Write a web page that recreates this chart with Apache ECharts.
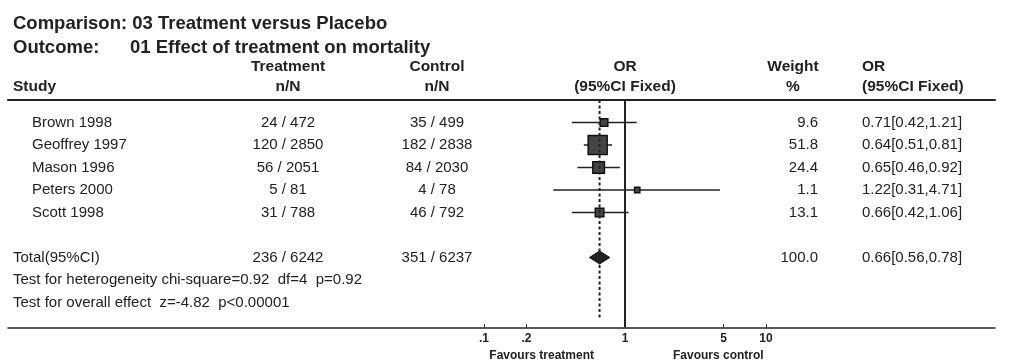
<!DOCTYPE html>
<html>
<head>
<meta charset="utf-8">
<title>Forest plot</title>
<script src="https://cdn.jsdelivr.net/npm/echarts@6/dist/echarts.min.js"></script>
<style>
  html, body { margin: 0; padding: 0; background: #fff; }
  #main { width: 1027px; height: 360px; }
</style>
</head>
<body>
<div id="main"></div>
<script>
// ---- data ----
var studies = ['Brown 1998', 'Geoffrey 1997', 'Mason 1996', 'Peters 2000', 'Scott 1998'];
var treatEvents = [24, 120, 56, 5, 31];
var treatTotal = [472, 2850, 2051, 81, 788];
var ctrlEvents = [35, 182, 84, 4, 46];
var ctrlTotal = [499, 2838, 2030, 78, 792];
var weights = [9.6, 51.8, 24.4, 1.1, 13.1];
var orEst = [0.71, 0.64, 0.65, 1.22, 0.66];
var orLow = [0.42, 0.51, 0.46, 0.31, 0.42];
var orHigh = [1.21, 0.81, 0.92, 4.71, 1.06];

var totalTreat = [236, 6242];
var totalCtrl = [351, 6237];
var totalWeight = 100.0;
var totalOr = [0.66, 0.56, 0.78];      // est, low, high
var heterogeneity = [0.92, 4, 0.92];    // chi-square, df, p
var overallEffect = ['-4.82', '<0.00001'];

var tickValues = [0.1, 0.2, 1, 5, 10];
var tickLabels = ['.1', '.2', '1', '5', '10'];

// ---- layout ----
var FONT = "'Liberation Sans', Arial, sans-serif";
var INK = '#222';
var TOP = 100, ROWH = 22.5;
var ROW_MIN = -1, ROW_MAX = 9.1;
var TOTAL_ROW = 6;
var col = { left: 13, name: 32, treat: 288, ctrl: 437, plot: 625, weight: 818, or: 862, favT: 594, favC: 673 };

function fmtOr(e, l, h) {
  return e.toFixed(2) + '[' + l.toFixed(2) + ',' + h.toFixed(2) + ']';
}

// table cells: [x, row, text, align, weight, size]
var cells = [];
function cell(x, row, text, align, bold, size) {
  cells.push([x, row, text, align || 'left', bold ? 'bold' : 'normal', size || 15]);
}
cell(col.treat, -2.47, 'Treatment', 'center', true, 15.5);
cell(col.ctrl, -2.47, 'Control', 'center', true, 15.5);
cell(col.plot, -2.47, 'OR', 'center', true, 15.5);
cell(col.weight - 25, -2.47, 'Weight', 'center', true, 15.5);
cell(col.or, -2.47, 'OR', 'left', true, 15.5);
cell(col.left, -1.58, 'Study', 'left', true, 15.5);
cell(col.treat, -1.58, 'n/N', 'center', true, 15.5);
cell(col.ctrl, -1.58, 'n/N', 'center', true, 15.5);
cell(col.plot, -1.58, '(95%CI Fixed)', 'center', true, 15.5);
cell(col.weight - 25, -1.58, '%', 'center', true, 15.5);
cell(col.or, -1.58, '(95%CI Fixed)', 'left', true, 15.5);

studies.forEach(function (s, i) {
  cell(col.name, i, s);
  cell(col.treat, i, treatEvents[i] + ' / ' + treatTotal[i], 'center');
  cell(col.ctrl, i, ctrlEvents[i] + ' / ' + ctrlTotal[i], 'center');
  cell(col.weight, i, weights[i].toFixed(1), 'right');
  cell(col.or, i, fmtOr(orEst[i], orLow[i], orHigh[i]));
});
cell(col.left, TOTAL_ROW, 'Total(95%CI)');
cell(col.treat, TOTAL_ROW, totalTreat[0] + ' / ' + totalTreat[1], 'center');
cell(col.ctrl, TOTAL_ROW, totalCtrl[0] + ' / ' + totalCtrl[1], 'center');
cell(col.weight, TOTAL_ROW, totalWeight.toFixed(1), 'right');
cell(col.or, TOTAL_ROW, fmtOr(totalOr[0], totalOr[1], totalOr[2]));
cell(col.left, TOTAL_ROW + 1, 'Test for heterogeneity chi-square=' + heterogeneity[0] +
  '  df=' + heterogeneity[1] + '  p=' + heterogeneity[2]);
cell(col.left, TOTAL_ROW + 2, 'Test for overall effect  z=' + overallEffect[0] + '  p' + overallEffect[1]);
cell(col.favT, 10.38, 'Favours treatment', 'right', true, 12);
cell(col.favC, 10.38, 'Favours control', 'left', true, 12);

var chart = echarts.init(document.getElementById('main'), null, { renderer: 'canvas' });

var titleStyle = { fontFamily: FONT, fontSize: 18.5, fontWeight: 'bold', color: INK };

var option = {
  animation: false,
  backgroundColor: '#fff',
  title: [
    { text: 'Comparison: 03 Treatment versus Placebo', left: 13, top: 14, padding: 0, textStyle: titleStyle },
    { text: 'Outcome:', left: 13, top: 38, padding: 0, textStyle: titleStyle },
    { text: '01 Effect of treatment on mortality', left: 130, top: 38, padding: 0, textStyle: titleStyle }
  ],
  grid: [
    { left: 484, right: 1027 - 766, top: TOP, height: ROWH * (ROW_MAX - ROW_MIN) },
    { left: 8, right: 1027 - 995, top: TOP, height: ROWH * (ROW_MAX - ROW_MIN) }
  ],
  xAxis: [
    {
      gridIndex: 0, type: 'log', logBase: 10, min: 0.1, max: 10, position: 'bottom',
      axisLine: { show: false, onZero: false },
      splitLine: { show: false },
      axisTick: { show: true, inside: true, length: 3, customValues: tickValues,
        lineStyle: { color: INK, width: 1 } },
      axisLabel: {
        customValues: tickValues, margin: 5,
        fontFamily: FONT, fontSize: 12, fontWeight: 'bold', color: INK,
        formatter: function (v) {
          var best = 0;
          tickValues.forEach(function (t, i) {
            if (Math.abs(Math.log(t) - Math.log(v)) < Math.abs(Math.log(tickValues[best]) - Math.log(v))) best = i;
          });
          return tickLabels[best];
        }
      }
    },
    {
      gridIndex: 1, type: 'value', min: 8, max: 995, position: 'bottom',
      axisLine: { show: true, onZero: false, lineStyle: { color: INK, width: 1.5 } },
      axisTick: { show: false }, axisLabel: { show: false }, splitLine: { show: false }
    },
    {
      gridIndex: 1, type: 'value', min: 8, max: 995, position: 'top',
      axisLine: { show: true, onZero: false, lineStyle: { color: INK, width: 2 } },
      axisTick: { show: false }, axisLabel: { show: false }, splitLine: { show: false }
    }
  ],
  yAxis: [
    { gridIndex: 0, type: 'value', min: ROW_MIN, max: ROW_MAX, inverse: true, show: false },
    { gridIndex: 1, type: 'value', min: ROW_MIN, max: ROW_MAX, inverse: true, show: false }
  ],
  series: [
    {
      // table text
      type: 'custom', xAxisIndex: 1, yAxisIndex: 1, silent: true, clip: false,
      data: cells.map(function (c) { return [c[0], c[1]]; }),
      renderItem: function (params, api) {
        var c = cells[params.dataIndex];
        var p = api.coord([api.value(0), api.value(1)]);
        return {
          type: 'text', x: p[0], y: p[1],
          style: { text: c[2], align: c[3], verticalAlign: 'middle',
            fontFamily: FONT, fontSize: c[5], fontWeight: c[4], fill: INK }
        };
      }
    },
    {
      // line of no effect (solid) and pooled estimate (dashed)
      type: 'custom', xAxisIndex: 0, yAxisIndex: 0, silent: true, clip: false,
      data: [[1, ROW_MIN, ROW_MAX, 0], [totalOr[0], ROW_MIN, 8.7, 1]],
      renderItem: function (params, api) {
        var a = api.coord([api.value(0), api.value(1)]);
        var b = api.coord([api.value(0), api.value(2)]);
        var dashed = api.value(3) === 1;
        return {
          type: 'line', z2: 1,
          shape: { x1: a[0], y1: a[1], x2: b[0], y2: b[1] },
          style: { stroke: INK, lineWidth: 2, lineDash: dashed ? [3, 2.5] : null }
        };
      }
    },
    {
      // study estimates with confidence intervals
      type: 'custom', xAxisIndex: 0, yAxisIndex: 0, silent: true, clip: false,
      data: studies.map(function (s, i) { return [orEst[i], i, orLow[i], orHigh[i], weights[i]]; }),
      renderItem: function (params, api) {
        var row = api.value(1);
        var c = api.coord([api.value(0), row]);
        var l = api.coord([api.value(2), row]);
        var h = api.coord([api.value(3), row]);
        var s = 5 + 0.27 * api.value(4);
        return {
          type: 'group', children: [
            { type: 'line', shape: { x1: l[0], y1: l[1], x2: h[0], y2: h[1] },
              style: { stroke: INK, lineWidth: 1.5 } },
            { type: 'rect', shape: { x: c[0] - s / 2, y: c[1] - s / 2, width: s, height: s },
              style: { fill: '#444', stroke: '#111', lineWidth: 1.5 } }
          ]
        };
      }
    },
    {
      // pooled diamond
      type: 'custom', xAxisIndex: 0, yAxisIndex: 0, silent: true, clip: false,
      data: [[totalOr[0], TOTAL_ROW, totalOr[1], totalOr[2]]],
      renderItem: function (params, api) {
        var row = api.value(1);
        var c = api.coord([api.value(0), row]);
        var l = api.coord([api.value(2), row]);
        var h = api.coord([api.value(3), row]);
        return {
          type: 'polygon',
          shape: { points: [[l[0], l[1]], [c[0], c[1] - 6.5], [h[0], h[1]], [c[0], c[1] + 6.5]] },
          style: { fill: '#222', stroke: '#111', lineWidth: 1 }
        };
      }
    }
  ]
};

chart.setOption(option);
</script>
</body>
</html>
